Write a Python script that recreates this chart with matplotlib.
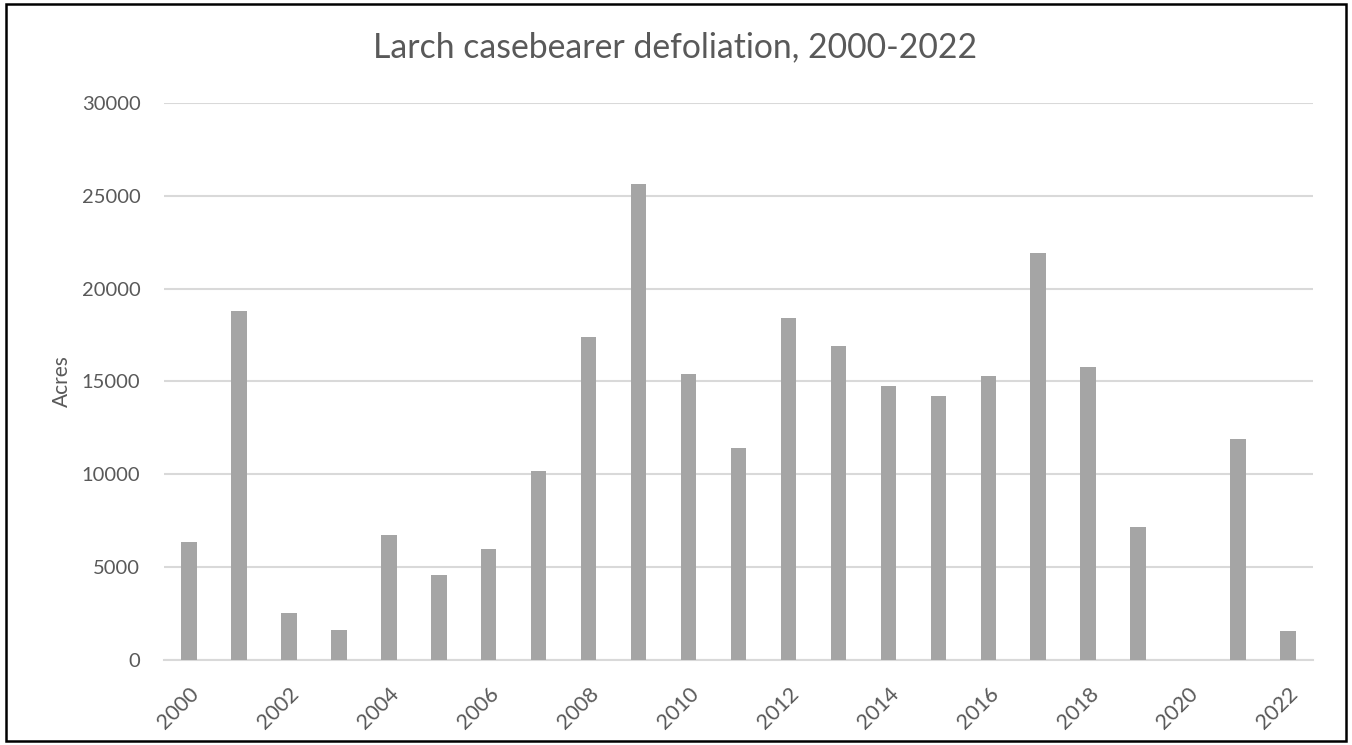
import matplotlib
matplotlib.use("Agg")
import matplotlib.pyplot as plt
from matplotlib.patches import Rectangle

years = [str(y) for y in range(2000, 2023)]
acres = [6360, 18780, 2550, 1620, 6740, 4600, 6000, 10200, 17400, 25630,
         15380, 11400, 18440, 16920, 14770, 14210, 15270, 21940, 15790,
         7170, 0, 11880, 1560]
yticks = [0, 5000, 10000, 15000, 20000, 25000, 30000]
title = "Larch casebearer defoliation, 2000-2022"
ylabel = "Acres"

plt.rcParams['font.family'] = ['Lato', 'DejaVu Sans']
W, H = 1352, 745
fig = plt.figure(figsize=(W / 100, H / 100), dpi=100)
ax = fig.add_axes([164 / W, 1 - 660 / H, (1313 - 164) / W, (660 - 103) / H])

x = list(range(len(years)))
ax.bar(x, acres, width=0.31, color='#A5A5A5', zorder=3)
ax.set_xlim(-0.5, len(years) - 0.5)
ax.set_ylim(0, 30000)
ax.set_yticks(yticks)
ax.set_yticklabels([str(v) for v in yticks])
ax.yaxis.grid(True, color='#D9D9D9', linewidth=1.5, zorder=0)
ax.set_axisbelow(True)
for s in ['top', 'right', 'left']:
    ax.spines[s].set_visible(False)
ax.spines['bottom'].set_color('#D9D9D9')
ax.spines['bottom'].set_linewidth(1.5)
ax.tick_params(axis='both', length=0, colors='#595959', labelsize=14.5)
ax.tick_params(axis='y', pad=17)

ax.set_xticks(x[::2])
ax.set_xticklabels(years[::2], rotation=45, ha='right', va='top',
                   rotation_mode='anchor', fontsize=15.5)
ax.tick_params(axis='x', pad=17)

ax.set_ylabel(ylabel, fontsize=15, color='#595959', labelpad=7)
fig.text(675 / W, 1 - 47 / H, title, ha='center', va='center',
         fontsize=24.3, color='#595959')

fig.patches.append(Rectangle((6 / W, 4 / H), (W - 12) / W, (H - 8) / H,
                             transform=fig.transFigure, fill=False,
                             edgecolor='black', linewidth=1.8))

fig.savefig('out.png', dpi=100)
